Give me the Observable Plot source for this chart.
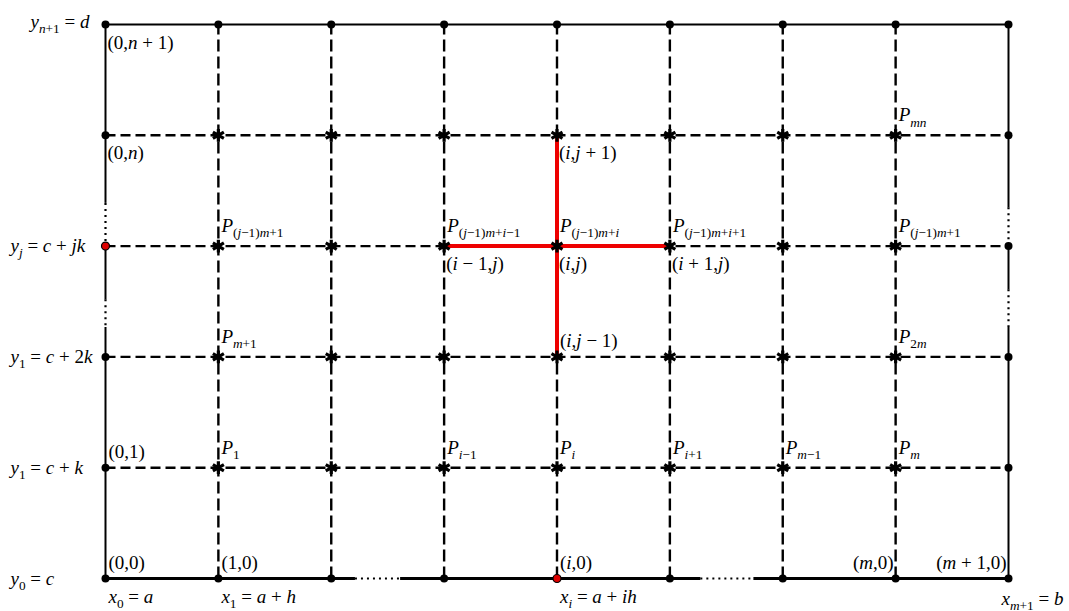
<!DOCTYPE html>
<html>
<head>
<meta charset="utf-8">
<script src="https://cdn.jsdelivr.net/npm/d3@7"></script>
<script src="https://cdn.jsdelivr.net/npm/@observablehq/plot@0.6"></script>
<style>
  html, body { margin: 0; padding: 0; background: #fff; }
  #chart svg text { white-space: pre; }
</style>
</head>
<body>
<div id="chart"></div>
<script>
// ---- grid (index space) ----
const cols = [0, 1, 2, 3, 4, 5, 6, 7, 8];
const rows = [0, 1, 2, 3, 4, 5];
const dashedRows = [1, 2, 3, 4];
const dashedCols = [1, 2, 3, 4, 5, 6, 7];

// boundary pieces (grid units): solid and dotted parts
const solidEdges = [
  {x1: 0, y1: 5, x2: 8, y2: 5},
  {x1: 0, y1: 5, x2: 0, y2: 3.39}, {x1: 0, y1: 3, x2: 0, y2: 2.52}, {x1: 0, y1: 2.27, x2: 0, y2: 0},
  {x1: 8, y1: 4.0, x2: 8, y2: 3.35}, {x1: 8, y1: 3, x2: 8, y2: 2.61}, {x1: 8, y1: 2.27, x2: 8, y2: 0},
  {x1: 8, y1: 5, x2: 8, y2: 4}
];
const bottomSolid = [
  {x1: 0, y1: 0, x2: 2.21, y2: 0}, {x1: 2.61, y1: 0, x2: 5.27, y2: 0}, {x1: 5.74, y1: 0, x2: 8, y2: 0}
];
const dottedEdges = [
  {x1: 0, y1: 3.39, x2: 0, y2: 3}, {x1: 0, y1: 2.52, x2: 0, y2: 2.27},
  {x1: 8, y1: 3.35, x2: 8, y2: 3}, {x1: 8, y1: 2.61, x2: 8, y2: 2.27},
  {x1: 2.21, y1: 0, x2: 2.61, y2: 0}, {x1: 5.27, y1: 0, x2: 5.74, y2: 0}
];
const stencil = [
  {x1: 3, y1: 3, x2: 5, y2: 3},
  {x1: 4, y1: 2, x2: 4, y2: 4}
];
const redPoints = [{c: 0, r: 3}, {c: 4, r: 0}];

// ---- labels ----
const rowLabels = [
  {t: "y_{n+1} = d", r: 5},
  {t: "y_j = c + jk", r: 3},
  {t: "y_1 = c + 2k", r: 2},
  {t: "y_1 = c + k", r: 1},
  {t: "y_0 = c", r: 0}
];
const colLabels = [
  {t: "x_0 = a", c: 0},
  {t: "x_1 = a + h", c: 1},
  {t: "x_i = a + ih", c: 4},
  {t: "x_{m+1} = b", c: 8}
];
const pointLabels = [
  {t: "(0,n + 1)", c: 0, r: 5, p: "below"},
  {t: "(0,n)", c: 0, r: 4, p: "below"},
  {t: "(i,j + 1)", c: 4, r: 4, p: "below"},
  {t: "P_{mn}", c: 7, r: 4, p: "P"},
  {t: "P_{(j−1)m+1}", c: 1, r: 3, p: "P"},
  {t: "P_{(j−1)m+i−1}", c: 3, r: 3, p: "P"},
  {t: "P_{(j−1)m+i}", c: 4, r: 3, p: "P"},
  {t: "P_{(j−1)m+i+1}", c: 5, r: 3, p: "P"},
  {t: "P_{(j−1)m+1}", c: 7, r: 3, p: "P"},
  {t: "(i − 1,j)", c: 3, r: 3, p: "below"},
  {t: "(i,j)", c: 4, r: 3, p: "below"},
  {t: "(i + 1,j)", c: 5, r: 3, p: "below"},
  {t: "P_{m+1}", c: 1, r: 2, p: "P"},
  {t: "(i,j − 1)", c: 4, r: 2, p: "above"},
  {t: "P_{2m}", c: 7, r: 2, p: "P"},
  {t: "(0,1)", c: 0, r: 1, p: "above"},
  {t: "P_1", c: 1, r: 1, p: "P"},
  {t: "P_{i−1}", c: 3, r: 1, p: "P"},
  {t: "P_i", c: 4, r: 1, p: "P"},
  {t: "P_{i+1}", c: 5, r: 1, p: "P"},
  {t: "P_{m−1}", c: 6, r: 1, p: "P"},
  {t: "P_m", c: 7, r: 1, p: "P"},
  {t: "(0,0)", c: 0, r: 0, p: "above"},
  {t: "(1,0)", c: 1, r: 0, p: "above"},
  {t: "(i,0)", c: 4, r: 0, p: "above"},
  {t: "(m,0)", c: 7, r: 0, p: "left"},
  {t: "(m + 1,0)", c: 8, r: 0, p: "left"}
];

// ---- derived tables ----
const hLines = dashedRows.map(r => ({x1: 0, y1: r, x2: 8, y2: r}));
const vLines = dashedCols.map(c => ({x1: c, y1: 0, x2: c, y2: 5}));
const boundaryPts = [];
for (const c of cols) { boundaryPts.push({c, r: 0}, {c, r: 5}); }
for (const r of dashedRows) { boundaryPts.push({c: 0, r}, {c: 8, r}); }
const isRed = p => redPoints.some(q => q.c === p.c && q.r === p.r);
const blackDots = boundaryPts.filter(p => !isRed(p));
const interiorPts = [];
for (const c of dashedCols) for (const r of dashedRows) interiorPts.push({c, r});

const F = 19;
const place = {
  P:     {dx: 3, dy: -20, anchor: "start"},
  above: {dx: 3, dy: -16, anchor: "start"},
  below: {dx: 2, dy: 18, anchor: "start"},
  left:  {dx: -2, dy: -16, anchor: "end"}
};
const labelMarks = Object.entries(place).map(([k, o]) =>
  Plot.text(pointLabels.filter(d => d.p === k), {
    x: "c", y: "r", text: "t", dx: o.dx, dy: o.dy, textAnchor: o.anchor,
    fill: "black", fontSize: F, className: "mathlbl"
  })
);

const chart = Plot.plot({
  width: 1069,
  height: 611,
  marginLeft: 105,
  marginRight: 61,
  marginTop: 24,
  marginBottom: 33,
  x: {domain: [0, 8], axis: null},
  y: {domain: [0, 5], axis: null},
  style: {fontFamily: "'Liberation Serif', 'DejaVu Serif', serif", fontSize: F + "px", background: "white", overflow: "visible"},
  marks: [
    Plot.link(hLines, {x1: "x1", y1: "y1", x2: "x2", y2: "y2", stroke: "black", strokeWidth: 2.4, strokeDasharray: "10,5"}),
    Plot.link(vLines, {x1: "x1", y1: "y1", x2: "x2", y2: "y2", stroke: "black", strokeWidth: 2.4, strokeDasharray: "12,5"}),
    Plot.link(solidEdges, {x1: "x1", y1: "y1", x2: "x2", y2: "y2", stroke: "black", strokeWidth: 2}),
    Plot.link(bottomSolid, {x1: "x1", y1: "y1", x2: "x2", y2: "y2", stroke: "black", strokeWidth: 3}),
    Plot.link(dottedEdges, {x1: "x1", y1: "y1", x2: "x2", y2: "y2", stroke: "black", strokeWidth: 2.2, strokeDasharray: "2,4"}),
    Plot.link(stencil, {x1: "x1", y1: "y1", x2: "x2", y2: "y2", stroke: "#ee0000", strokeWidth: 4}),
    Plot.dot(interiorPts, {x: "c", y: "r", symbol: "asterisk", r: 6, stroke: "black", strokeWidth: 3.2}),
    Plot.dot(blackDots, {x: "c", y: "r", r: 4, fill: "black", stroke: "none"}),
    Plot.dot(redPoints, {x: "c", y: "r", r: 4, fill: "#dd0000", stroke: "black", strokeWidth: 1.2}),
    ...labelMarks,
    Plot.text(rowLabels.filter(d => d.r === 5), {x: () => 0, y: "r", text: "t", textAnchor: "start", dx: -75, dy: -3, fontSize: F, className: "mathlbl"}),
    Plot.text(rowLabels.filter(d => d.r !== 5), {x: () => 0, y: "r", text: "t", textAnchor: "start", dx: -95, dy: 0, fontSize: F, className: "mathlbl"}),
    Plot.text(colLabels.filter(d => d.c !== 8), {x: "c", y: () => 0, text: "t", textAnchor: "start", dx: 3, dy: 18, fontSize: F, className: "mathlbl"}),
    Plot.text(colLabels.filter(d => d.c === 8), {x: "c", y: () => 0, text: "t", textAnchor: "start", dx: -7, dy: 20, fontSize: F, className: "mathlbl"})
  ]
});

// typeset: italic letters, subscripts as smaller lowered tspans
const NS = "http://www.w3.org/2000/svg";
function typeset(el, s) {
  el.textContent = "";
  const parts = [];
  let i = 0;
  while (i < s.length) {
    if (s[i] === "_") {
      let str;
      if (s[i + 1] === "{") { const k = s.indexOf("}", i + 1); str = s.slice(i + 2, k); i = k + 1; }
      else { str = s[i + 1]; i += 2; }
      parts.push({str, sub: true});
    } else {
      let k = s.indexOf("_", i); if (k < 0) k = s.length;
      parts.push({str: s.slice(i, k), sub: false}); i = k;
    }
  }
  const shift = 0.28 * F;
  let cur = 0;
  for (const p of parts) {
    const runs = p.str.match(/[a-zA-Z]+|[^a-zA-Z]+/g) || [];
    for (const r of runs) {
      const t = document.createElementNS(NS, "tspan");
      t.textContent = r;
      if (/[a-zA-Z]/.test(r)) t.setAttribute("font-style", "italic");
      if (p.sub) t.setAttribute("font-size", (0.7 * F).toFixed(1));
      const target = p.sub ? shift : 0;
      if (target !== cur) { t.setAttribute("dy", (target - cur).toFixed(1)); cur = target; }
      el.appendChild(t);
    }
  }
}
chart.querySelectorAll(".mathlbl text").forEach(el => typeset(el, el.textContent));

document.getElementById("chart").appendChild(chart);
</script>
</body>
</html>
